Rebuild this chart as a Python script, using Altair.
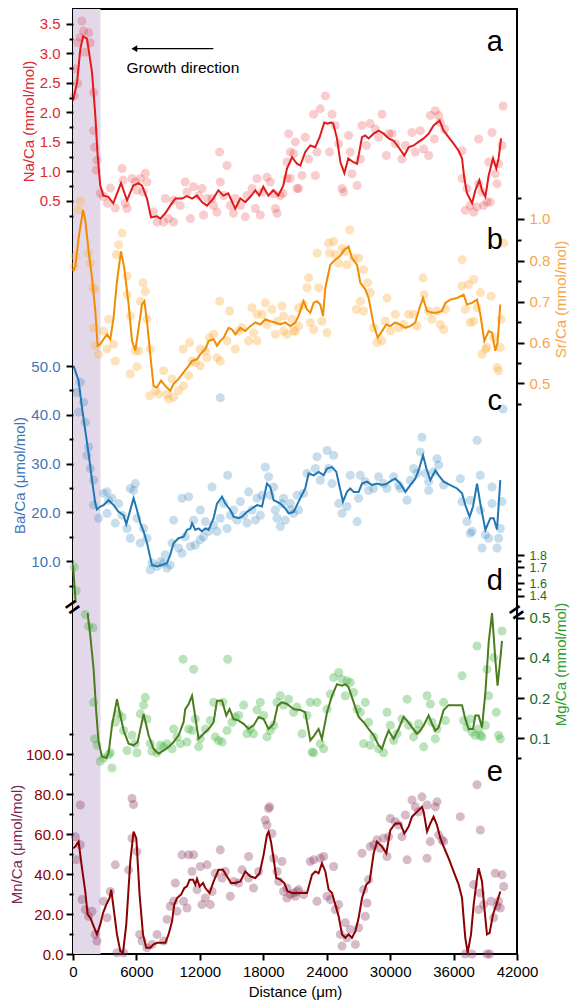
import altair as alt
import pandas as pd

FONT = "Liberation Sans"

# ---------------- data (distance in µm, ratio values) ----------------
shade_range = [0, 2600]
panel_labels = ["a", "b", "c", "d", "e"]

na_line = [(0,2.20),(380,2.50),(690,3.07),(950,3.29),(1320,3.25),(1800,2.68),(2110,1.95),(2330,1.27),(2580,0.76),(2870,0.59),(3340,0.57),(3810,0.46),(4540,0.80),(5110,0.51),(5700,0.76),(6180,0.80),(6530,0.76),(7000,0.54),(7380,0.22),(7950,0.24),(8260,0.20),(8730,0.29),(9200,0.42),(9680,0.54),(10310,0.54),(10780,0.58),(11260,0.54),(11730,0.59),(12200,0.48),(12680,0.42),(13270,0.54),(13750,0.68),(14220,0.59),(14690,0.63),(15350,0.37),(15830,0.54),(16300,0.48),(16770,0.57),(17250,0.68),(17620,0.59),(18000,0.74),(18480,0.59),(18950,0.68),(19420,0.59),(19890,0.76),(20240,1.05),(20720,1.24),(21190,1.13),(21500,1.10),(21970,1.33),(22450,1.44),(22920,1.41),(23330,1.58),(23770,1.83),(24090,1.81),(24410,1.83),(24620,1.81),(24970,1.56),(25290,1.16),(25670,0.97),(26040,1.22),(26490,1.16),(26870,1.13),(27340,1.58),(27650,1.61),(27960,1.56),(28440,1.64),(28910,1.69),(29380,1.64),(29860,1.56),(30330,1.52),(30800,1.41),(31340,1.27),(31750,1.41),(32220,1.44),(32690,1.50),(33170,1.56),(33640,1.64),(34110,1.78),(34680,1.86),(35060,1.69),(35530,1.58),(36000,1.47),(36480,1.35),(36800,1.22),(37020,0.88),(37270,0.63),(37750,0.46),(38060,0.68),(38440,0.85),(38690,0.68),(39010,0.57),(39320,0.93),(39730,1.22),(40040,1.05),(40260,1.22),(40490,1.56)]
na_pts = [(850,3.55),(1000,3.38),(690,3.27),(1480,3.35),(440,3.18),(1640,3.18),(1160,3.02),(220,2.74),(440,2.49),(120,2.28),(1950,2.34),(1950,1.69),(2040,1.41),(2270,1.19),(2200,1.02),(2580,0.63),(2890,0.57),(3530,0.72),(3270,0.46),(4000,0.38),(4640,1.05),(4730,0.85),(4950,0.46),(5110,0.37),(5580,0.88),(5890,0.82),(6050,0.68),(6370,0.88),(6840,0.97),(7000,0.82),(6620,0.65),(7620,0.31),(7950,0.14),(8570,0.14),(8730,0.54),(9040,0.20),(9520,0.14),(9520,0.51),(10150,0.42),(10620,0.82),(10780,0.65),(11100,0.20),(11410,0.74),(11880,0.59),(12200,0.71),(12350,0.26),(12680,0.54),(13150,0.54),(13300,0.42),(13620,0.31),(13870,1.33),(13930,0.82),(14250,0.59),(14570,1.10),(14880,0.42),(15190,0.29),(15350,0.54),(15830,0.42),(16300,0.23),(16460,0.59),(16930,0.71),(17250,0.37),(17410,0.88),(17720,0.26),(17880,0.65),(18350,0.90),(18660,0.82),(18980,0.62),(19140,0.37),(19300,0.29),(19610,0.59),(19870,0.63),(20400,1.64),(21030,1.50),(20870,1.30),(20560,0.88),(21190,0.71),(20240,1.16),(20240,0.88),(20560,1.33),(21340,0.71),(21660,0.93),(21970,1.58),(22290,1.21),(22760,1.97),(22920,0.93),(23390,2.06),(23080,1.33),(23870,2.28),(24270,1.33),(24500,1.97),(24810,1.78),(25130,1.47),(25450,0.71),(25600,0.65),(26070,1.61),(26230,1.33),(26390,0.96),(26870,0.76),(27180,1.21),(27340,1.78),(27750,1.44),(28120,1.81),(28600,1.72),(28910,1.58),(29230,1.97),(29640,1.27),(29860,1.64),(30180,1.64),(30490,1.47),(31120,1.21),(31440,1.44),(32070,1.66),(32380,1.33),(32850,1.69),(33170,1.38),(33640,1.27),(33800,1.95),(34270,2.03),(34590,1.95),(34180,1.55),(35150,1.72),(34750,1.83),(36800,1.35),(36800,0.88),(37270,0.71),(37110,0.34),(37580,0.42),(37900,0.31),(38220,0.40),(38370,0.79),(38370,1.55),(38690,0.65),(38840,0.42),(39160,0.48),(39320,1.16),(39480,0.48),(39640,1.66),(39950,0.96),(40110,0.79),(40260,1.13),(40580,1.44),(40680,2.11)]

sr_line = [(0,0.774),(220,0.786),(530,0.908),(950,1.043),(1160,0.995),(1480,0.844),(1800,0.758),(2110,0.677),(2330,0.592),(2580,0.596),(2890,0.608),(3220,0.620),(3530,0.608),(3840,0.661),(4160,0.750),(4540,0.844),(4850,0.782),(5260,0.693),(5580,0.604),(5890,0.580),(6210,0.636),(6530,0.693),(6750,0.701),(7000,0.652),(7310,0.571),(7620,0.494),(7950,0.490),(8320,0.507),(8730,0.494),(9200,0.482),(9520,0.499),(9990,0.511),(10460,0.527),(10940,0.543),(11260,0.555),(11730,0.559),(12040,0.571),(12520,0.584),(12830,0.604),(13300,0.608),(13620,0.592),(13930,0.604),(14250,0.612),(14720,0.636),(15040,0.632),(15350,0.620),(15830,0.636),(16300,0.628),(16770,0.640),(17250,0.649),(17720,0.644),(18190,0.657),(18660,0.652),(19140,0.649),(19610,0.644),(20080,0.649),(20560,0.640),(21030,0.649),(21340,0.665),(21810,0.701),(22130,0.681),(22450,0.673),(22760,0.697),(23080,0.701),(23390,0.693),(23650,0.665),(23870,0.734),(24340,0.790),(24810,0.805),(25220,0.820),(25670,0.852),(26070,0.868),(26390,0.813),(26870,0.790),(27180,0.746),(27650,0.730),(27960,0.709),(28440,0.644),(28820,0.612),(29230,0.628),(29640,0.644),(30020,0.640),(30490,0.649),(30960,0.644),(31440,0.636),(31910,0.640),(32380,0.649),(32790,0.685),(33110,0.709),(33490,0.677),(33960,0.673),(34430,0.673),(34910,0.677),(35220,0.697),(35690,0.705),(36330,0.709),(36950,0.717),(37270,0.693),(37750,0.697),(38220,0.705),(38530,0.669),(38910,0.604),(39320,0.628),(39640,0.624),(39950,0.580),(40160,0.600),(40420,0.693)]
sr_pts = [(690,1.086),(530,1.043),(220,0.820),(120,0.786),(1480,0.837),(1640,0.794),(1890,0.734),(2040,0.730),(1950,0.636),(2110,0.592),(2420,0.571),(2890,0.628),(3370,0.657),(3220,0.584),(3840,0.596),(4000,0.555),(4640,0.932),(4310,0.876),(4100,0.829),(5110,0.762),(5110,0.717),(5420,0.665),(5890,0.580),(6210,0.580),(6050,0.541),(5420,0.523),(6620,0.746),(6840,0.725),(6370,0.701),(7000,0.657),(7310,0.584),(7250,0.470),(7790,0.482),(8100,0.474),(8570,0.531),(8890,0.474),(9040,0.462),(9370,0.511),(9520,0.466),(9990,0.482),(10410,0.584),(10460,0.494),(10940,0.519),(11030,0.600),(11260,0.555),(11570,0.551),(12040,0.584),(12040,0.543),(12520,0.580),(12680,0.563),(12930,0.612),(13300,0.620),(13620,0.563),(13930,0.555),(13870,0.701),(14570,0.604),(14810,0.677),(15350,0.584),(15670,0.628),(15990,0.636),(16610,0.604),(17080,0.624),(17410,0.604),(16930,0.685),(17410,0.669),(17880,0.669),(18190,0.697),(18350,0.644),(18820,0.681),(19140,0.620),(19300,0.652),(19770,0.689),(19920,0.665),(20240,0.620),(20720,0.657),(20870,0.628),(21340,0.685),(19920,0.628),(21030,0.628),(21340,0.640),(21810,0.693),(22290,0.758),(22130,0.734),(22450,0.649),(22760,0.632),(23240,0.734),(23550,0.652),(24030,0.624),(23080,0.837),(24180,0.884),(24650,0.892),(24270,0.837),(24810,0.829),(25130,0.794),(25450,0.860),(25760,0.844),(25920,0.790),(26170,0.948),(26550,0.813),(27020,0.813),(27490,0.778),(27870,0.746),(27180,0.701),(26800,0.681),(27490,0.677),(28120,0.722),(28440,0.636),(28760,0.600),(29230,0.604),(29540,0.652),(29700,0.709),(30020,0.628),(30490,0.669),(30800,0.636),(31270,0.644),(31750,0.669),(32220,0.669),(32540,0.640),(33110,0.758),(33230,0.717),(33640,0.677),(33960,0.657),(34430,0.677),(34750,0.644),(35060,0.632),(35220,0.681),(36800,0.805),(36800,0.738),(37110,0.681),(37420,0.742),(37580,0.649),(37900,0.754),(37900,0.652),(38220,0.685),(38530,0.722),(38690,0.571),(39010,0.584),(39160,0.588),(39540,0.713),(39790,0.612),(40110,0.539),(40260,0.531),(40420,0.588),(40490,0.657),(40740,0.884)]

ba_line = [(60,50.0),(530,47.0),(850,41.5),(1160,36.8),(1480,32.0),(1800,26.6),(2110,21.8),(2270,20.6),(2580,21.2),(2890,21.5),(3370,22.5),(3840,21.5),(4310,20.1),(4790,19.4),(5040,17.6),(5420,20.5),(5730,22.9),(6050,20.5),(6370,17.8),(6680,16.1),(7000,13.7),(7470,9.2),(7950,8.9),(8420,9.2),(8890,9.6),(9200,11.3),(9520,13.7),(9990,14.7),(10460,15.0),(10780,16.4),(11100,16.7),(11260,17.8),(11570,16.4),(11880,16.7),(12200,16.1),(12520,16.7),(12830,16.4),(13300,18.8),(13620,21.8),(14100,23.2),(14410,21.8),(14880,20.5),(15190,19.1),(15670,18.8),(15990,19.1),(16460,20.1),(16930,20.8),(17410,21.5),(17880,21.2),(18350,25.9),(18660,25.2),(18980,22.5),(19610,21.8),(20080,20.8),(20400,19.8),(20870,20.1),(21340,22.2),(21970,24.9),(22290,28.0),(22760,27.6),(23240,28.3),(23710,27.6),(24030,29.0),(24500,29.3),(24910,28.3),(25220,25.2),(25540,22.2),(25920,24.2),(26230,24.9),(26550,24.2),(27020,24.2),(27340,25.9),(27810,26.3),(28290,25.6),(28760,25.9),(29230,25.6),(29700,25.9),(30180,26.6),(30490,26.9),(30960,25.9),(31440,24.2),(31910,25.6),(32380,26.9),(32690,28.6),(33110,31.7),(33430,29.0),(33800,26.6),(34270,28.6),(34590,27.6),(35060,26.3),(35690,25.6),(36330,24.9),(36800,23.9),(37110,21.5),(37520,19.1),(37840,21.2),(38220,25.9),(38530,21.8),(39010,16.4),(39480,18.8),(39790,18.8),(40110,16.5),(40420,26.6)]
ba_pts = [(690,46.7),(380,44.6),(1000,42.6),(13930,43.5),(530,40.6),(1160,38.5),(1480,33.4),(1320,31.7),(1640,29.0),(1950,26.6),(1950,21.5),(2420,18.8),(2890,23.9),(3220,24.2),(3370,22.5),(3220,19.8),(3690,22.9),(4000,17.8),(4310,21.8),(4640,19.4),(5110,16.7),(5420,14.7),(5420,24.9),(5730,24.5),(5890,25.9),(6050,18.8),(6370,13.7),(6680,16.7),(7000,14.7),(7310,8.2),(7470,9.6),(7950,8.9),(8260,9.9),(8570,9.6),(8890,8.6),(9200,9.2),(8730,11.3),(9370,13.7),(9520,18.4),(9990,12.7),(10310,11.6),(10310,22.9),(10620,15.0),(10940,23.2),(11100,13.0),(11410,18.4),(11570,13.3),(12040,20.5),(12040,14.4),(12350,15.0),(12520,18.1),(12830,16.1),(13150,25.2),(13300,17.4),(13620,16.1),(13930,18.8),(14250,21.8),(14570,16.7),(14630,27.6),(14880,19.4),(15190,20.5),(15510,18.4),(15830,22.2),(16140,19.4),(16460,17.8),(16610,24.2),(16930,20.5),(17250,18.4),(17410,22.9),(17720,19.4),(17880,23.5),(18190,29.3),(18500,27.3),(18660,23.5),(18980,25.2),(19140,20.5),(19300,18.8),(19610,17.1),(19770,21.8),(20080,18.4),(20560,20.5),(20870,19.8),(21190,23.5),(19920,22.9),(20560,21.8),(21340,20.5),(21810,23.9),(22130,28.0),(23080,31.4),(22920,29.0),(23390,26.6),(24030,32.7),(24650,31.7),(24180,29.0),(24500,25.9),(25130,21.8),(25450,19.8),(25920,21.2),(26230,27.6),(26870,18.1),(27020,22.9),(27180,27.6),(27650,26.3),(27960,24.5),(28440,24.9),(28910,27.3),(29380,25.9),(29700,24.9),(30330,27.3),(30800,25.6),(30960,24.9),(31600,22.5),(31910,26.6),(32220,29.0),(32540,28.0),(33010,35.4),(32850,32.4),(33330,28.0),(33640,26.3),(33640,24.5),(34110,28.3),(34430,31.0),(34590,29.7),(35060,25.6),(36640,26.9),(36800,22.2),(37270,18.1),(37580,15.7),(37750,16.1),(37580,22.5),(38220,34.8),(38530,27.6),(38530,20.5),(38690,12.7),(39010,15.4),(39320,14.7),(39640,25.2),(39640,21.8),(40110,12.7),(40260,14.7),(40420,16.7),(40580,22.2),(40680,41.2)]

mg_hi_line = [(0,1.72),(120,1.60),(250,1.30)]
mg_hi_pts = [(120,1.70),(310,1.48)]
mg_line = [(1380,0.512),(1640,0.454),(1950,0.343),(2200,0.165),(2420,0.090),(2740,0.054),(3150,0.050),(3370,0.063),(3690,0.132),(4160,0.198),(4410,0.165),(4790,0.119),(5260,0.086),(5730,0.082),(6110,0.090),(6680,0.161),(7150,0.107),(7620,0.073),(8100,0.061),(8570,0.069),(9040,0.078),(9520,0.090),(9990,0.107),(10460,0.140),(10620,0.173),(10940,0.186),(11260,0.213),(11500,0.165),(11880,0.098),(12350,0.111),(12830,0.123),(13300,0.140),(13620,0.194),(14100,0.194),(14500,0.157),(14810,0.173),(15190,0.148),(15670,0.144),(16140,0.136),(16610,0.123),(17080,0.132),(17560,0.153),(18030,0.148),(18500,0.123),(18980,0.136),(19360,0.182),(19770,0.190),(20240,0.186),(20870,0.173),(21500,0.171),(21970,0.165),(22450,0.094),(22830,0.107),(23230,0.123),(23550,0.098),(24030,0.165),(24500,0.213),(24970,0.270),(25440,0.262),(25760,0.270),(26070,0.254),(26390,0.205),(27020,0.153),(27490,0.140),(27960,0.123),(28440,0.107),(28910,0.082),(29230,0.073),(29540,0.098),(29860,0.119),(30330,0.098),(30800,0.123),(31270,0.153),(31600,0.144),(32070,0.127),(32540,0.111),(32850,0.119),(33170,0.132),(33640,0.157),(33960,0.136),(34270,0.119),(34590,0.127),(35060,0.171),(35530,0.183),(36330,0.183),(36800,0.183),(37110,0.148),(37420,0.123),(37840,0.123),(38060,0.157),(38370,0.157),(38690,0.127),(39010,0.229),(39320,0.438),(39640,0.512),(39950,0.392),(40160,0.262),(40420,0.392),(40580,0.442)]
mg_pts = [(1160,0.508),(1480,0.479),(1890,0.475),(1950,0.190),(2040,0.098),(2270,0.082),(2580,0.042),(2890,0.050),(3370,0.058),(3690,0.025),(3530,0.063),(4000,0.140),(4310,0.161),(4640,0.153),(4790,0.119),(5110,0.069),(5580,0.107),(5890,0.086),(6050,0.063),(6370,0.161),(6680,0.183),(6840,0.205),(7000,0.148),(7310,0.086),(7470,0.067),(7950,0.063),(8260,0.082),(8570,0.078),(8890,0.086),(9370,0.073),(9520,0.123),(9840,0.103),(10150,0.086),(10410,0.392),(10780,0.090),(10940,0.123),(11260,0.119),(11410,0.343),(11570,0.148),(11880,0.078),(12040,0.098),(12520,0.123),(12990,0.144),(13300,0.190),(13460,0.103),(13770,0.094),(14100,0.090),(14190,0.190),(14630,0.392),(14570,0.119),(15040,0.140),(15350,0.153),(15670,0.157),(16140,0.183),(16460,0.111),(16770,0.123),(17080,0.111),(17410,0.171),(17720,0.190),(18030,0.157),(18350,0.103),(18660,0.119),(18980,0.132),(19300,0.190),(19610,0.213),(19920,0.183),(20400,0.198),(20870,0.165),(21190,0.178),(21660,0.111),(22130,0.157),(22450,0.190),(22610,0.065),(22760,0.063),(23080,0.190),(23390,0.086),(23710,0.073),(24030,0.173),(24340,0.221),(24650,0.302),(25130,0.327),(25450,0.294),(25920,0.286),(26230,0.278),(26550,0.229),(25760,0.213),(26870,0.173),(27180,0.165),(27650,0.190),(27490,0.086),(27960,0.140),(28120,0.082),(28440,0.103),(28910,0.073),(29380,0.063),(29700,0.165),(30020,0.132),(30330,0.094),(30650,0.111),(31120,0.148),(31600,0.198),(31750,0.132),(32220,0.103),(32540,0.119),(32690,0.136),(33170,0.078),(33490,0.213),(33800,0.186),(33960,0.140),(34270,0.098),(34430,0.123),(35060,0.190),(35220,0.144),(36800,0.311),(36950,0.144),(37270,0.127),(37580,0.148),(37750,0.115),(38060,0.107),(38220,0.429),(38370,0.123),(38530,0.107),(38690,0.103),(39010,0.132),(39160,0.343),(39320,0.213),(39790,0.400),(40040,0.165),(40260,0.107),(40420,0.098),(40580,0.467)]
break_marks = [(0,0.525),(42000,0.512)]

mn_line = [(0,52.9),(220,53.7),(530,56.2),(850,42.9),(1160,31.3),(1380,19.8),(1640,18.1),(1950,13.9),(2270,9.8),(2580,14.8),(2840,20.5),(3150,24.7),(3460,28.0),(3620,32.2),(3840,23.0),(4160,9.8),(4470,1.5),(4730,0.6),(5040,14.8),(5420,46.3),(5730,61.2),(5990,57.9),(6300,29.7),(6620,9.8),(6930,3.1),(7310,3.1),(7620,4.8),(7950,5.6),(8320,5.6),(8730,5.6),(9040,9.8),(9370,16.4),(9580,24.7),(9840,28.0),(10220,29.7),(10530,33.0),(10780,33.8),(11030,37.2),(11350,37.2),(11570,34.7),(11730,37.6),(11980,33.8),(12300,35.5),(12520,33.0),(12920,30.5),(13300,36.3),(13770,42.1),(14190,42.1),(14570,38.8),(14950,35.5),(15350,35.5),(15830,36.3),(16300,41.3),(16770,38.8),(17250,38.0),(17650,40.4),(18030,49.6),(18350,59.6),(18500,61.2),(18730,56.2),(19040,45.4),(19230,38.0),(19610,37.2),(19990,35.5),(20300,31.3),(20720,30.5),(21500,30.5),(22140,30.5),(22610,39.6),(22920,41.3),(23230,40.4),(23550,45.4),(23870,41.3),(24180,32.2),(24500,30.5),(24810,24.7),(25130,18.9),(25450,9.8),(25760,8.1),(26070,9.8),(26390,8.1),(26710,11.4),(27020,18.1),(27340,28.0),(27750,34.7),(28060,36.3),(28440,50.4),(28760,56.2),(29230,53.7),(29640,50.4),(30020,62.0),(30490,65.3),(30960,65.3),(31340,60.3),(31750,63.7),(32070,68.7),(32540,71.1),(33010,73.6),(33170,71.1),(33490,61.2),(33800,65.3),(34110,68.7),(34430,64.5),(34750,57.9),(35060,53.7),(35530,47.9),(36000,41.3),(36480,34.7),(36800,28.0),(36950,18.1),(37110,8.1),(37330,0.6),(37650,9.8),(37900,24.7),(38220,38.0),(38370,42.9),(38690,36.3),(38910,23.0),(39160,9.8),(39410,10.6),(39730,19.8),(40040,24.7),(40420,31.3)]
mn_pts = [(690,74.5),(5580,77.8),(5730,74.8),(18600,73.6),(18190,67.0),(220,58.7),(310,47.1),(690,54.6),(850,27.2),(1160,22.2),(1480,18.9),(1800,21.4),(2110,9.8),(2270,6.5),(2890,26.4),(3220,18.1),(3530,31.3),(4000,44.6),(4160,0.6),(4790,0.6),(5260,42.1),(5580,57.9),(6050,51.2),(6300,9.8),(6530,6.5),(7000,3.1),(7470,4.8),(7950,9.8),(8570,6.5),(8890,17.3),(9200,23.9),(9520,26.4),(9680,35.5),(9840,21.4),(10310,49.6),(10460,26.4),(10780,23.0),(10940,49.6),(11260,41.3),(11410,49.6),(11730,32.2),(12040,43.8),(12200,24.7),(12520,28.0),(12680,44.6),(12990,24.7),(13150,31.3),(13460,40.4),(13930,52.1),(14100,38.0),(14410,41.3),(14880,28.9),(15190,36.3),(15670,35.5),(15990,42.1),(16610,48.8),(16610,38.0),(17080,33.0),(17560,41.3),(18500,72.8),(18350,64.5),(18820,60.3),(18980,47.9),(19300,41.3),(19460,36.3),(19770,46.3),(19920,31.3),(20240,28.0),(20560,29.7),(21030,28.9),(21340,32.2),(20240,33.0),(20870,30.5),(21190,31.3),(21810,29.7),(22450,46.3),(22760,47.1),(23080,26.4),(23390,47.9),(23710,48.8),(24030,28.9),(24340,27.2),(24650,43.8),(24810,22.2),(25130,24.7),(25290,9.8),(25450,4.0),(25760,15.6),(25920,8.1),(26230,12.3),(26710,4.8),(27020,13.1),(27340,50.4),(27490,32.2),(27650,18.9),(27810,25.5),(27960,37.2),(28120,53.7),(28440,54.6),(28760,57.1),(29070,52.9),(29380,57.9),(29700,48.8),(29860,58.7),(30020,67.8),(30490,66.2),(30800,64.5),(31120,58.7),(31440,69.5),(31600,47.1),(32070,77.0),(32380,73.6),(32690,71.1),(33010,78.6),(33490,74.5),(33490,47.9),(33800,56.2),(34270,73.6),(34430,76.1),(34590,59.6),(34910,57.1),(35060,56.2),(36640,68.7),(37110,0.0),(37750,0.0),(37900,34.7),(38220,84.7),(38530,62.0),(38530,30.5),(38370,22.2),(38840,24.7),(39160,0.0),(39410,0.0),(39540,26.4),(39790,18.1),(39950,40.4),(40110,23.9),(40260,26.4),(40420,23.0),(40580,39.6),(40740,33.8)]

# annotation positions (data units)
label_x = 39900
label_y = {"a": 3.2, "b": 0.9, "c": 42.9, "d": 1.61, "e": 91.0}
arrow_span = [5800, 13270]
arrow_y = 3.08
growth_text = ("Growth direction", 10390, 2.76)

# tick values
x_major = list(range(0, 42001, 6000))
x_minor = list(range(3000, 42000, 6000))

# ---------------- scales ----------------
xscale = alt.Scale(domain=[0, 42000], nice=False, zero=False)
na_scale = alt.Scale(domain=[0, 3.75], range=[221.4, 0.2], nice=False, zero=False)
sr_scale = alt.Scale(domain=[0.45, 0.8, 1.0, 1.1], range=[394.9, 251.7, 209.9, 189.0], nice=False, zero=False)
ba_scale = alt.Scale(domain=[5, 50], range=[576.5, 357.1], nice=False, zero=False)
mgh_scale = alt.Scale(domain=[1.4, 1.6, 1.7, 1.8], range=[586.9, 574.0, 558.1, 546.1], nice=False, zero=False)
mg_scale = alt.Scale(domain=[0.0, 0.1, 0.2, 0.4, 0.5, 0.67], range=[768.9, 729.1, 689.4, 648.6, 608.8, 541.1], nice=False, zero=False)
mn_scale = alt.Scale(domain=[0, 110], range=[945.0, 725.1], nice=False, zero=False)

TICKS = dict(ticks=True, tickWidth=2, tickColor="black", tickOpacity=1, domain=False, grid=False, zindex=1)
LABEL_SIZE = 15
TITLE_SIZE = 15


def major_axis(values, orient, title, label_color, title_color, title_y=None, label_size=LABEL_SIZE,
               label_pad=6, title_pad=3):
    kw = dict(values=values, orient=orient, format=".1f", tickSize=7,
              labelColor=label_color, labelFont=FONT, labelFontSize=label_size,
              labelOverlap=False, labelFlush=False, labelPadding=label_pad, **TICKS)
    if title:
        kw.update(title=title, titleColor=title_color, titleFont=FONT, titleFontSize=TITLE_SIZE,
                  titleFontWeight="normal", titlePadding=title_pad, titleY=title_y, titleAlign="center")
        if orient == "right":
            kw.update(titleAngle=270, titleBaseline="top")
    else:
        kw.update(title=None)
    return alt.Axis(**kw)


def minor_axis(values, orient):
    return alt.Axis(values=values, orient=orient, tickSize=4, labels=False, title=None, **TICKS)


xaxis_major = alt.Axis(values=x_major, format="d", tickSize=6, labelFlush=False, labelOverlap=False,
                       labelFont=FONT, labelFontSize=LABEL_SIZE, labelColor="black", labelPadding=4,
                       title="Distance (μm)", titleFont=FONT, titleFontSize=TITLE_SIZE, titleFontWeight="normal",
                       titleColor="black", titlePadding=5, **TICKS)
xaxis_minor = alt.Axis(values=x_minor, tickSize=3, labels=False, title=None, **TICKS)


def X(field, axis=None):
    return alt.X(field, type="quantitative", scale=xscale, axis=axis)


def Y(field, scale, axis):
    return alt.Y(field, type="quantitative", scale=scale, axis=axis)


def panel(pts, line, scale, axis, pt_color, pt_op, line_color, extra=()):
    pdf = pd.DataFrame(pts, columns=["d", "v"])
    ldf = pd.DataFrame(line, columns=["d", "v"])
    p = alt.Chart(pdf).mark_circle(size=82, opacity=pt_op, color=pt_color).encode(
        x=X("d"), y=Y("v", scale, axis))
    l = alt.Chart(ldf).mark_line(color=line_color, strokeWidth=2).encode(
        x=X("d"), y=Y("v", scale, axis))
    layers = [p, l] + [e(scale, axis) for e in extra]
    return alt.layer(*layers)


def minor_carrier(scale, values, orient):
    df = pd.DataFrame({"d": [0], "v": [values[0]]})
    return alt.Chart(df).mark_point(opacity=0).encode(x=X("d"), y=Y("v", scale, minor_axis(values, orient)))


def letter(lab):
    def make(scale, axis):
        df = pd.DataFrame({"d": [label_x], "v": [label_y[lab]], "t": [lab]})
        return alt.Chart(df).mark_text(font=FONT, fontSize=29, color="black", align="center",
                                       baseline="middle").encode(x=X("d"), y=Y("v", scale, axis), text="t:N")
    return make


def arrow_line(scale, axis):
    df = pd.DataFrame({"d": [arrow_span[0]], "d2": [arrow_span[1]], "v": [arrow_y]})
    return alt.Chart(df).mark_rule(color="black", strokeWidth=1.3).encode(
        x=X("d"), x2="d2:Q", y=Y("v", scale, axis))


def arrow_head(scale, axis):
    df = pd.DataFrame({"d": [arrow_span[0]], "v": [arrow_y]})
    return alt.Chart(df).mark_point(shape="triangle-left", filled=True, size=45, color="black", opacity=1).encode(
        x=X("d"), y=Y("v", scale, axis))


def growth(scale, axis):
    df = pd.DataFrame({"d": [growth_text[1]], "v": [growth_text[2]], "t": [growth_text[0]]})
    return alt.Chart(df).mark_text(font=FONT, fontSize=15.5, color="black", align="center", baseline="middle").encode(
        x=X("d"), y=Y("v", scale, axis), text="t:N")


def breaks(scale, axis):
    df = pd.DataFrame(break_marks, columns=["d", "v"])
    df["t"] = "="
    return alt.Chart(df).mark_text(font=FONT, fontSize=24, fontWeight="bold", color="black", angle=325,
                                   align="center", baseline="middle").encode(
        x=X("d"), y=Y("v", scale, axis), text="t:N")


shade_df = pd.DataFrame({"d": [shade_range[0]], "d2": [shade_range[1]]})
shade = alt.Chart(shade_df).mark_rect(color="#e3d8ea").encode(x=X("d", xaxis_major), x2="d2:Q")
xminor_df = pd.DataFrame({"d": [0]})
x_minor_layer = alt.Chart(xminor_df).mark_tick(opacity=0).encode(x=X("d", xaxis_minor))

na_major = [0.5, 1.0, 1.5, 2.0, 2.5, 3.0, 3.5]
na_minor = [0.25, 0.75, 1.25, 1.75, 2.25, 2.75, 3.25]
sr_major = [0.5, 0.6, 0.7, 0.8, 1.0]
sr_minor = [0.45, 0.55, 0.65, 0.75, 0.9, 1.1]
ba_major = [10, 20, 30, 40, 50]
ba_minor = [5, 15, 25, 35, 45]
mgh_major = [1.4, 1.6, 1.7, 1.8]
mgh_minor = [1.5, 1.65, 1.75]
mg_major = [0.1, 0.2, 0.4, 0.5]
mg_minor = [0.05, 0.15, 0.3, 0.45]
mn_major = [0, 20, 40, 60, 80, 100]
mn_minor = [10, 30, 50, 70, 90, 110]

na = panel(na_pts, na_line, na_scale,
           major_axis(na_major, "left", "Na/Ca (mmol/mol)", "#e0282e", "#e0282e", title_y=112),
           "#e31a1c", 0.22, "#e31a1c", extra=(arrow_line, arrow_head, growth, letter("a")))
sr = panel(sr_pts, sr_line, sr_scale,
           major_axis(sr_major, "right", "Sr/Ca (mmol/mol)", "#f7a54c", "#f7a54c", title_y=290,
                      label_pad=5, title_pad=4),
           "#fdb44b", 0.38, "#f28c00", extra=(letter("b"),))
ba = panel(ba_pts, ba_line, ba_scale,
           major_axis(ba_major, "left", "Ba/Ca (μmol/mol)", "#3f74b8", "#3f74b8", title_y=466),
           "#1f77b4", 0.25, "#1f77b4", extra=(letter("c"),))
mgh = panel(mg_hi_pts, mg_hi_line, mgh_scale,
            major_axis(mgh_major, "right", None, "#1e6b1e", "#1e6b1e", label_size=12.5, label_pad=5),
            "#3cae3c", 0.35, "#4a7d1d", extra=(letter("d"),))
mg = panel(mg_pts, mg_line, mg_scale,
           major_axis(mg_major, "right", "Mg/Ca (mmol/mol)", "#1e6b1e", "#2ca02c", title_y=655,
                      label_pad=5, title_pad=4),
           "#3cae3c", 0.35, "#4a7d1d", extra=(breaks,))
mn = panel(mn_pts, mn_line, mn_scale,
           major_axis(mn_major, "left", "Mn/Ca (μmol/mol)", "#8b0000", "#7a2a52", title_y=835,
                      label_pad=3, title_pad=1),
           "#8a3a62", 0.35, "#8b0000", extra=(letter("e"),))

minors = [
    minor_carrier(na_scale, na_minor, "left"),
    minor_carrier(sr_scale, sr_minor, "right"),
    minor_carrier(ba_scale, ba_minor, "left"),
    minor_carrier(mgh_scale, mgh_minor, "right"),
    minor_carrier(mg_scale, mg_minor, "right"),
    minor_carrier(mn_scale, mn_minor, "left"),
]

chart = alt.layer(shade, x_minor_layer, na, sr, ba, mgh, mg, mn, *minors).resolve_scale(
    y="independent").resolve_axis(x="independent", y="independent").properties(
    width=444, height=945,
    autosize=alt.AutoSizeParams(type="none"),
    padding={"left": 65, "right": 53, "top": 1, "bottom": 54},
).configure_view(stroke="black", strokeWidth=2)

chart.save("out.html", embed_options={"renderer": "svg", "actions": False})
